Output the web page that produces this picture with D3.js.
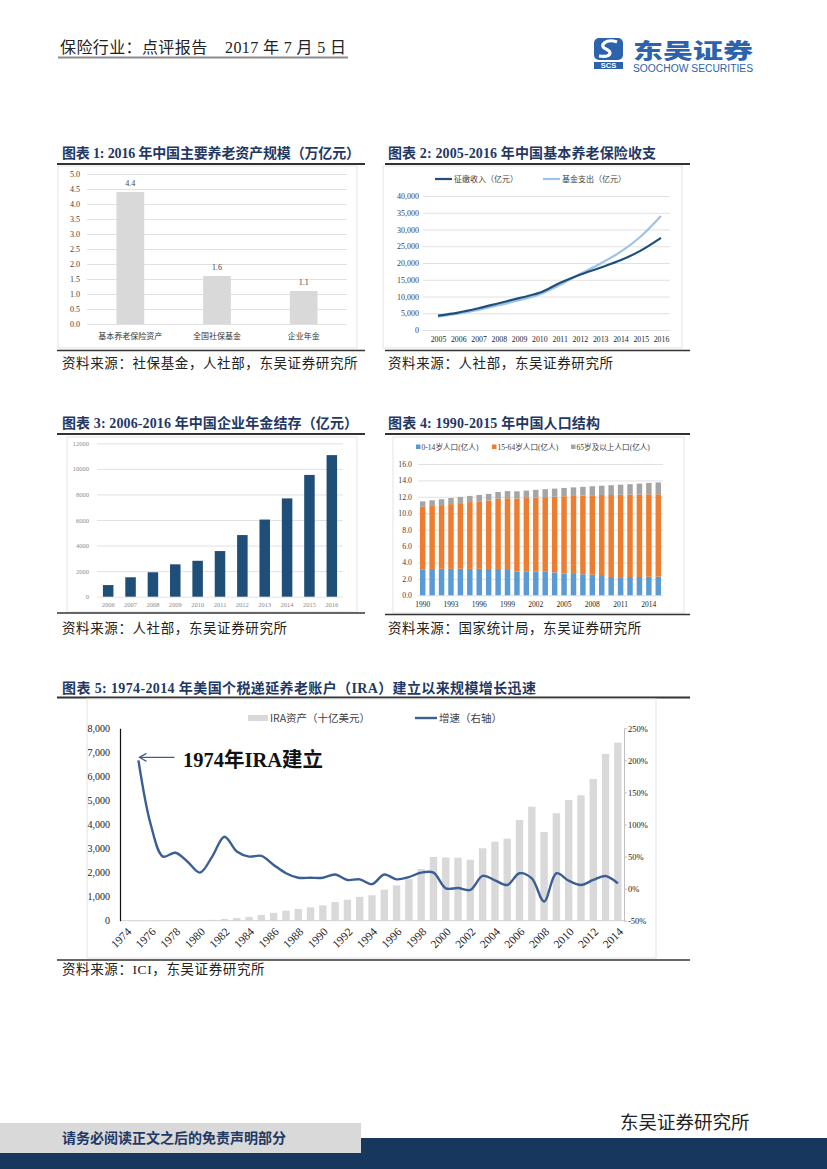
<!DOCTYPE html>
<html><head><meta charset="utf-8">
<script src="https://cdn.jsdelivr.net/npm/d3@7"></script>
<style>body{margin:0;background:#fff} svg{display:block} text{white-space:pre}</style>
</head><body>
<svg width="827" height="1169"></svg>
<script>
// 图表1
var assetCats = ["基本养老保险资产", "全国社保基金", "企业年金"];
var assetVals = [4.4, 1.6, 1.1];
var assetTicks = [0, 0.5, 1, 1.5, 2, 2.5, 3, 3.5, 4, 4.5, 5];
// 图表2
var fundYears = [2005, 2006, 2007, 2008, 2009, 2010, 2011, 2012, 2013, 2014, 2015, 2016];
var incomeVals = [4300, 5200, 6500, 8000, 9500, 11100, 14000, 16500, 18600, 20800, 23700, 27500];
var payoutVals = [4000, 4900, 6000, 7400, 8900, 10600, 13400, 16700, 19800, 23300, 27900, 34000];
var fundTicks = [0, 5000, 10000, 15000, 20000, 25000, 30000, 35000, 40000];
// 图表3
var annuityYears = [2006, 2007, 2008, 2009, 2010, 2011, 2012, 2013, 2014, 2015, 2016];
var annuityVals = [910, 1519, 1911, 2533, 2809, 3570, 4821, 6035, 7689, 9526, 11075];
var annuityTicks = [0, 2000, 4000, 6000, 8000, 10000, 12000];
// 图表4
var popYears = [1990, 1991, 1992, 1993, 1994, 1995, 1996, 1997, 1998, 1999, 2000, 2001, 2002,
                2003, 2004, 2005, 2006, 2007, 2008, 2009, 2010, 2011, 2012, 2013, 2014, 2015];
var popYoung = [3.17, 3.21, 3.23, 3.22, 3.24, 3.22, 3.23, 3.21, 3.21, 3.20, 2.90, 2.87, 2.88,
                2.86, 2.79, 2.65, 2.60, 2.57, 2.52, 2.47, 2.23, 2.22, 2.23, 2.23, 2.26, 2.27];
var popWork = [7.63, 7.68, 7.76, 7.89, 7.99, 8.14, 8.22, 8.34, 8.54, 8.63, 8.89, 8.98, 9.03,
               9.10, 9.22, 9.42, 9.51, 9.58, 9.67, 9.75, 9.99, 10.03, 10.04, 10.06, 10.05, 10.04];
var popOld = [0.64, 0.69, 0.72, 0.74, 0.76, 0.75, 0.78, 0.81, 0.84, 0.87, 0.88, 0.91, 0.94,
              0.97, 0.99, 1.01, 1.04, 1.06, 1.10, 1.13, 1.19, 1.23, 1.27, 1.32, 1.38, 1.44];
var popSeries = ["0-14岁人口(亿人)", "15-64岁人口(亿人)", "65岁及以上人口(亿人)"];
var popTicks = [0, 2, 4, 6, 8, 10, 12, 14, 16];
var popLabelYears = [1990, 1993, 1996, 1999, 2002, 2005, 2008, 2011, 2014];
// 图表5
var iraYears = [1974, 1975, 1976, 1977, 1978, 1979, 1980, 1981, 1982, 1983, 1984, 1985, 1986, 1987,
                1988, 1989, 1990, 1991, 1992, 1993, 1994, 1995, 1996, 1997, 1998, 1999, 2000, 2001,
                2002, 2003, 2004, 2005, 2006, 2007, 2008, 2009, 2010, 2011, 2012, 2013, 2014];
var iraAssets = [1, 3, 6, 9, 14, 20, 25, 37, 68, 109, 159, 241, 328, 417,
                 489, 557, 636, 776, 873, 993, 1056, 1288, 1467, 1728, 2150, 2650, 2629, 2619,
                 2533, 3011, 3286, 3411, 4189, 4742, 3690, 4467, 5020, 5214, 5893, 6933, 7404];
var iraGrowth = [null, 200, 100, 50, 56, 42, 25, 50, 81, 58, 50, 51, 37, 24,
                 17, 17, 17, 22, 13.5, 14.5, 7, 22, 14.5, 18, 25, 25, 0.5, 1,
                 -2, 20, 13, 5.7, 24, 16, -20, 24, 12.4, 5.7, 13.5, 19.7, 8.3];
var iraLeftTicks = [0, 1000, 2000, 3000, 4000, 5000, 6000, 7000, 8000];
var iraRightTicks = [-50, 0, 50, 100, 150, 200, 250];
var iraLabelYears = [1974, 1976, 1978, 1980, 1982, 1984, 1986, 1988, 1990, 1992, 1994, 1996, 1998,
                     2000, 2002, 2004, 2006, 2008, 2010, 2012, 2014];

var serif = "'Liberation Serif','Noto Sans CJK SC',serif";
var sans = "'Noto Sans CJK SC','Liberation Sans',sans-serif";
var navy = "#1f3864";
var svg = d3.select("svg");

// ---------- 页眉 / 页脚 ----------
svg.append("text").attr("x", 60).attr("y", 53).attr("font-family", serif).attr("font-size", 16)
   .attr("fill", "#222").attr("textLength", 286).attr("lengthAdjust", "spacing")
   .text("保险行业：点评报告    2017 年 7 月 5 日");
svg.append("line").attr("x1", 58).attr("x2", 348).attr("y1", 57.5).attr("y2", 57.5)
   .attr("stroke", "#8c8c8c").attr("stroke-width", 2);

var logoBlue = "#2d62ad";
svg.append("rect").attr("x", 594).attr("y", 38).attr("width", 29).attr("height", 22).attr("rx", 5).attr("fill", logoBlue);
svg.append("path").attr("d", "M617,42 C606,38 598,46 606,49 C613,52 611,58 599,56")
   .attr("fill", "none").attr("stroke", "#fff").attr("stroke-width", 3.2);
svg.append("rect").attr("x", 594).attr("y", 62).attr("width", 29).attr("height", 7).attr("fill", logoBlue);
svg.append("text").attr("x", 608.5).attr("y", 68.3).attr("text-anchor", "middle").attr("font-family", "'Liberation Sans'")
   .attr("font-weight", "bold").attr("font-size", 7.5).attr("fill", "#fff").text("SCS");
svg.append("text").attr("x", 633).attr("y", 58).attr("font-family", sans).attr("font-weight", 900)
   .attr("font-size", 21).attr("fill", logoBlue).attr("textLength", 120).attr("lengthAdjust", "spacingAndGlyphs").text("东吴证券");
svg.append("text").attr("x", 633).attr("y", 72).attr("font-family", "'Liberation Sans'")
   .attr("font-size", 10).attr("fill", logoBlue).attr("textLength", 120).attr("lengthAdjust", "spacingAndGlyphs").text("SOOCHOW SECURITIES");

svg.append("rect").attr("x", 0).attr("y", 1123).attr("width", 361).attr("height", 30).attr("fill", "#d9d9d9");
svg.append("path").attr("d", "M361,1138 L827,1138 L827,1169 L0,1169 L0,1153 L361,1153 Z").attr("fill", "#17375e");
svg.append("text").attr("x", 62).attr("y", 1143).attr("font-family", serif).attr("font-weight", "bold")
   .attr("font-size", 14).attr("fill", navy).text("请务必阅读正文之后的免责声明部分");
svg.append("text").attr("x", 620).attr("y", 1129).attr("font-family", serif).attr("font-size", 18.5)
   .attr("fill", "#222").text("东吴证券研究所");

// ---------- 通用 ----------
function title(x, y, txt, len) {
  svg.append("text").attr("x", x).attr("y", y).attr("font-family", serif).attr("font-weight", "bold")
     .attr("font-size", 14).attr("fill", navy).attr("textLength", len).attr("lengthAdjust", "spacing").text(txt);
}
function rule(x1, x2, y, w) {
  svg.append("line").attr("x1", x1).attr("x2", x2).attr("y1", y).attr("y2", y)
     .attr("stroke", "#333").attr("stroke-width", w);
}
function source(x, y, txt) {
  svg.append("text").attr("x", x).attr("y", y).attr("font-family", serif).attr("font-size", 13.5)
     .attr("fill", "#222").attr("letter-spacing", 0.6).text(txt);
}
function frame(x, y, w, h) {
  svg.append("rect").attr("x", x).attr("y", y).attr("width", w).attr("height", h)
     .attr("fill", "none").attr("stroke", "#e3e3e3").attr("stroke-width", 1);
}
function gridAxis(x0, scale, ticks, len, pad, fmt, size, color) {
  var g = svg.append("g").attr("transform", "translate(" + x0 + ",0)")
    .call(d3.axisLeft(scale).tickValues(ticks).tickSize(-len).tickPadding(pad).tickFormat(fmt));
  g.select(".domain").remove();
  g.selectAll(".tick line").attr("stroke", "#d9d9d9").attr("stroke-width", 0.8);
  g.selectAll(".tick text").attr("font-family", serif).attr("font-size", size).attr("fill", color);
  return g;
}
function bottomAxis(y0, scale, ticks, pad, size, color, font) {
  var g = svg.append("g").attr("transform", "translate(0," + y0 + ")")
    .call(d3.axisBottom(scale).tickValues(ticks).tickSize(0).tickPadding(pad));
  g.select(".domain").remove();
  g.selectAll(".tick text").attr("font-family", font || serif).attr("font-size", size).attr("fill", color);
  return g;
}

// ---------- 图表1 ----------
title(62, 158, "图表 1: 2016 年中国主要养老资产规模（万亿元）", 298);
rule(57, 365, 164, 2);
frame(58, 166, 299, 182);
rule(57, 365, 350.5, 1.5);
source(62, 368, "资料来源：社保基金，人社部，东吴证券研究所");
var x1 = d3.scaleBand().domain(assetCats).range([87, 347]).paddingInner(0.68).paddingOuter(0.34);
var y1 = d3.scaleLinear().domain([0, 5]).range([324, 174]);
gridAxis(87, y1, assetTicks, 260, 7, d3.format(".1f"), 8, "#404040");
svg.selectAll(".b1").data(assetVals).enter().append("rect")
   .attr("x", function(d, i) { return x1(assetCats[i]); }).attr("y", function(d) { return y1(d); })
   .attr("width", x1.bandwidth()).attr("height", function(d) { return y1(0) - y1(d); }).attr("fill", "#d9d9d9");
svg.selectAll(".l1").data(assetVals).enter().append("text")
   .attr("x", function(d, i) { return x1(assetCats[i]) + x1.bandwidth() / 2; }).attr("y", function(d) { return y1(d) - 6; })
   .attr("text-anchor", "middle").attr("font-family", serif).attr("font-size", 8).attr("fill", "#404040")
   .text(function(d) { return d3.format(".1f")(d); });
bottomAxis(324, x1, assetCats, 9, 8, "#333", sans);

// ---------- 图表2 ----------
title(388, 158, "图表 2: 2005-2016 年中国基本养老保险收支", 268);
rule(385, 690, 164, 2);
frame(383, 166, 299, 182);
rule(385, 690, 350.5, 1.5);
source(388, 368, "资料来源：人社部，东吴证券研究所");
var x2 = d3.scalePoint().domain(fundYears).range([438, 661]);
var y2 = d3.scaleLinear().domain([0, 40000]).range([330, 196]);
gridAxis(423, y2, fundTicks, 247, 4, d3.format(","), 8, "#404040");
bottomAxis(330, x2, fundYears, 6, 7.8, "#222");
var fundLine = d3.line().x(function(d, i) { return x2(fundYears[i]); }).y(function(d) { return y2(d); })
                 .curve(d3.curveCatmullRom.alpha(0.5));
svg.append("path").attr("d", fundLine(payoutVals)).attr("fill", "none").attr("stroke", "#9dc3e6").attr("stroke-width", 2.2);
svg.append("path").attr("d", fundLine(incomeVals)).attr("fill", "none").attr("stroke", "#1f4e79").attr("stroke-width", 2.2);
var leg2 = [["征缴收入（亿元）", "#1f4e79", 435], ["基金支出（亿元）", "#9dc3e6", 543]];
leg2.forEach(function(l) {
  svg.append("line").attr("x1", l[2]).attr("x2", l[2] + 17).attr("y1", 179).attr("y2", 179).attr("stroke", l[1]).attr("stroke-width", 2.2);
  svg.append("text").attr("x", l[2] + 19).attr("y", 182).attr("font-family", sans).attr("font-size", 8).attr("fill", "#404040").text(l[0]);
});

// ---------- 图表3 ----------
title(62, 428, "图表 3: 2006-2016 年中国企业年金结存（亿元）", 296);
rule(57, 365, 434, 2);
frame(67, 437, 290, 175);
rule(57, 365, 613, 1.5);
source(62, 633, "资料来源：人社部，东吴证券研究所");
var x3 = d3.scaleBand().domain(annuityYears).range([97, 343]).paddingInner(0.53).paddingOuter(0.265);
var y3 = d3.scaleLinear().domain([0, 12000]).range([596.7, 443.3]);
gridAxis(97, y3, annuityTicks, 246, 8, d3.format("d"), 6.5, "#8c8c8c");
svg.selectAll(".b3").data(annuityVals).enter().append("rect")
   .attr("x", function(d, i) { return x3(annuityYears[i]); }).attr("y", function(d) { return y3(d); })
   .attr("width", x3.bandwidth()).attr("height", function(d) { return y3(0) - y3(d); }).attr("fill", "#1f4e79");
bottomAxis(596.7, x3, annuityYears, 6, 6.5, "#8c8c8c");

// ---------- 图表4 ----------
title(388, 428, "图表 4: 1990-2015 年中国人口结构", 212);
rule(385, 690, 434, 2);
frame(393, 437, 291, 176);
rule(385, 690, 614.5, 1.5);
source(388, 633, "资料来源：国家统计局，东吴证券研究所");
var x4 = d3.scaleBand().domain(popYears).range([418, 663]).paddingInner(0.42).paddingOuter(0.21);
var y4 = d3.scaleLinear().domain([0, 16]).range([595.3, 464]);
gridAxis(418, y4, popTicks, 245, 6, d3.format(".1f"), 7.8, "#404040");
var popRows = popYears.map(function(y, i) { return { year: y, a: popYoung[i], b: popWork[i], c: popOld[i] }; });
var stack = d3.stack().keys(["a", "b", "c"])(popRows);
var popColors = ["#5b9bd5", "#ed7d31", "#a5a5a5"];
stack.forEach(function(layer, k) {
  svg.selectAll(".s4" + k).data(layer).enter().append("rect")
     .attr("x", function(d) { return x4(d.data.year); }).attr("y", function(d) { return y4(d[1]); })
     .attr("width", x4.bandwidth()).attr("height", function(d) { return y4(d[0]) - y4(d[1]); })
     .attr("fill", popColors[k]);
});
bottomAxis(595.3, x4, popLabelYears, 6, 7.5, "#222");
var leg4x = [416, 492, 571];
popSeries.forEach(function(s, k) {
  svg.append("rect").attr("x", leg4x[k]).attr("y", 444.5).attr("width", 4.5).attr("height", 4.5).attr("fill", popColors[k]);
  svg.append("text").attr("x", leg4x[k] + 5.5).attr("y", 449.5).attr("font-family", serif).attr("font-size", 7.6)
     .attr("fill", "#404040").text(s);
});

// ---------- 图表5 ----------
title(62, 693, "图表 5: 1974-2014 年美国个税递延养老账户（IRA）建立以来规模增长迅速", 474);
rule(57, 690, 697.5, 2);
frame(87, 699, 569, 259);
rule(57, 690, 960, 1.5);
source(62, 974, "资料来源：ICI，东吴证券研究所");
var x5 = d3.scaleBand().domain(iraYears).range([120, 624]).paddingInner(0.4).paddingOuter(0.2);
var y5L = d3.scaleLinear().domain([0, 8000]).range([920.7, 728.3]);
var y5R = d3.scaleLinear().domain([-50, 250]).range([920.7, 728.3]);
svg.selectAll(".b5").data(iraAssets).enter().append("rect")
   .attr("x", function(d, i) { return x5(iraYears[i]); }).attr("y", function(d) { return y5L(d); })
   .attr("width", x5.bandwidth()).attr("height", function(d) { return y5L(0) - y5L(d); }).attr("fill", "#d9d9d9");
svg.append("line").attr("x1", 120).attr("x2", 624).attr("y1", 920.7).attr("y2", 920.7).attr("stroke", "#d0d0d0");
var axL = svg.append("g").attr("transform", "translate(120,0)")
  .call(d3.axisLeft(y5L).tickValues(iraLeftTicks).tickSize(0).tickPadding(10).tickFormat(d3.format(",")));
axL.select(".domain").attr("stroke", "#111").attr("stroke-width", 1.2);
axL.selectAll(".tick text").attr("font-family", serif).attr("font-size", 10).attr("fill", "#222");
var axR = svg.append("g").attr("transform", "translate(624,0)")
  .call(d3.axisRight(y5R).tickValues(iraRightTicks).tickSize(3).tickSizeOuter(0).tickPadding(1)
        .tickFormat(function(d) { return d + "%"; }));
axR.select(".domain").attr("stroke", "#bfbfbf");
axR.selectAll(".tick line").attr("stroke", "#bfbfbf");
axR.selectAll(".tick text").attr("font-family", serif).attr("font-size", 8.5).attr("fill", "#222");
var axB = svg.append("g").attr("transform", "translate(0,920.7)")
  .call(d3.axisBottom(x5).tickValues(iraLabelYears).tickSize(0));
axB.select(".domain").remove();
axB.selectAll(".tick text").attr("font-family", serif).attr("font-size", 11.5).attr("fill", "#222")
   .attr("text-anchor", "end").attr("y", 0).attr("dy", "0.35em")
   .attr("transform", "translate(3,9) rotate(-45)");
var growthLine = d3.line().defined(function(d) { return d !== null; })
  .x(function(d, i) { return x5(iraYears[i]) + x5.bandwidth() / 2; }).y(function(d) { return y5R(d); })
  .curve(d3.curveCatmullRom.alpha(0.5));
svg.append("path").attr("d", growthLine(iraGrowth)).attr("fill", "none").attr("stroke", "#3b5f94").attr("stroke-width", 2.4);
// 图例
svg.append("rect").attr("x", 248).attr("y", 715).attr("width", 20).attr("height", 6).attr("fill", "#d9d9d9");
svg.append("text").attr("x", 270).attr("y", 722).attr("font-family", sans).attr("font-size", 10.5).attr("fill", "#404040").text("IRA资产（十亿美元）");
svg.append("line").attr("x1", 415).attr("x2", 437).attr("y1", 718).attr("y2", 718).attr("stroke", "#3b5f94").attr("stroke-width", 2.4);
svg.append("text").attr("x", 439).attr("y", 722).attr("font-family", sans).attr("font-size", 10.5).attr("fill", "#404040").text("增速（右轴）");
// 标注
var tipX = x5(1975) + x5.bandwidth() / 2, tipY = y5R(iraGrowth[1]) - 3;
svg.append("line").attr("x1", tipX + 1).attr("x2", tipX + 36).attr("y1", tipY).attr("y2", tipY).attr("stroke", "#3b5f94").attr("stroke-width", 1.2);
svg.append("path").attr("d", "M" + (tipX + 8) + "," + (tipY - 4) + " L" + (tipX + 1) + "," + tipY + " L" + (tipX + 8) + "," + (tipY + 4))
   .attr("fill", "none").attr("stroke", "#3b5f94").attr("stroke-width", 1.2);
svg.append("text").attr("x", 183).attr("y", 767).attr("font-family", serif).attr("font-weight", "bold")
   .attr("font-size", 20.5).attr("fill", "#111").text("1974年IRA建立");
</script>
</body></html>
